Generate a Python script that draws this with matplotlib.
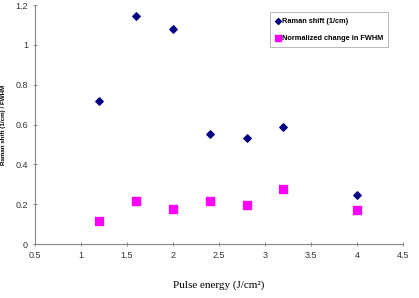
import matplotlib.pyplot as plt

energy = [1.2, 1.6, 2.0, 2.4, 2.8, 3.2, 4.0]
raman_shift = [0.718, 1.144, 1.082, 0.555, 0.533, 0.587, 0.244]
fwhm_change = [0.115, 0.218, 0.175, 0.214, 0.197, 0.275, 0.170]

fig = plt.figure(figsize=(4.19, 2.98), dpi=100)
ax = fig.add_axes([0.0835, 0.181, 0.8785, 0.802])

ax.scatter(energy, raman_shift, marker="D", s=14, color="#000080",
           label="Raman shift (1/cm)", zorder=3)
ax.scatter(energy, fwhm_change, marker="s", s=30, color="#FF00FF",
           label="Normalized change in FWHM", zorder=3)

ax.set_xlim(0.5, 4.5)
ax.set_ylim(0, 1.2)
ax.set_xticks([0.5, 1, 1.5, 2, 2.5, 3, 3.5, 4, 4.5])
ax.set_xticklabels(["0.5", "1", "1.5", "2", "2.5", "3", "3.5", "4", "4.5"])
ax.set_yticks([0, 0.2, 0.4, 0.6, 0.8, 1, 1.2])
ax.set_yticklabels(["0", "0.2", "0.4", "0.6", "0.8", "1", "1.2"])

for s in ["top", "right"]:
    ax.spines[s].set_visible(False)
for s in ["left", "bottom"]:
    ax.spines[s].set_color("#888888")
    ax.spines[s].set_linewidth(0.8)
ax.tick_params(axis="both", colors="#888888", labelcolor="#333333",
               labelsize=6.5, length=3, width=0.7, direction="inout")
for lab in ax.get_xticklabels() + ax.get_yticklabels():
    lab.set_family("Liberation Sans")

ax.set_xlabel("Pulse energy (J/cm²)", family="Liberation Serif",
              fontsize=8, labelpad=15)
ax.set_ylabel("Raman shift (1/cm) / FWHM", family="Liberation Sans",
              fontsize=4.5, fontweight="bold")
ax.yaxis.set_label_coords(-0.08, 0.5)

leg = ax.legend(loc="upper right", bbox_to_anchor=(0.97, 0.985),
                prop={"family": "Liberation Sans", "size": 5.3, "weight": "bold"},
                frameon=True, fancybox=False, handletextpad=0.1,
                handlelength=0.8, borderpad=0.7, labelspacing=1.4,
                markerscale=0.8)
leg.get_frame().set_edgecolor("#999999")
leg.get_frame().set_linewidth(0.6)

fig.savefig("out.png", dpi=100)
